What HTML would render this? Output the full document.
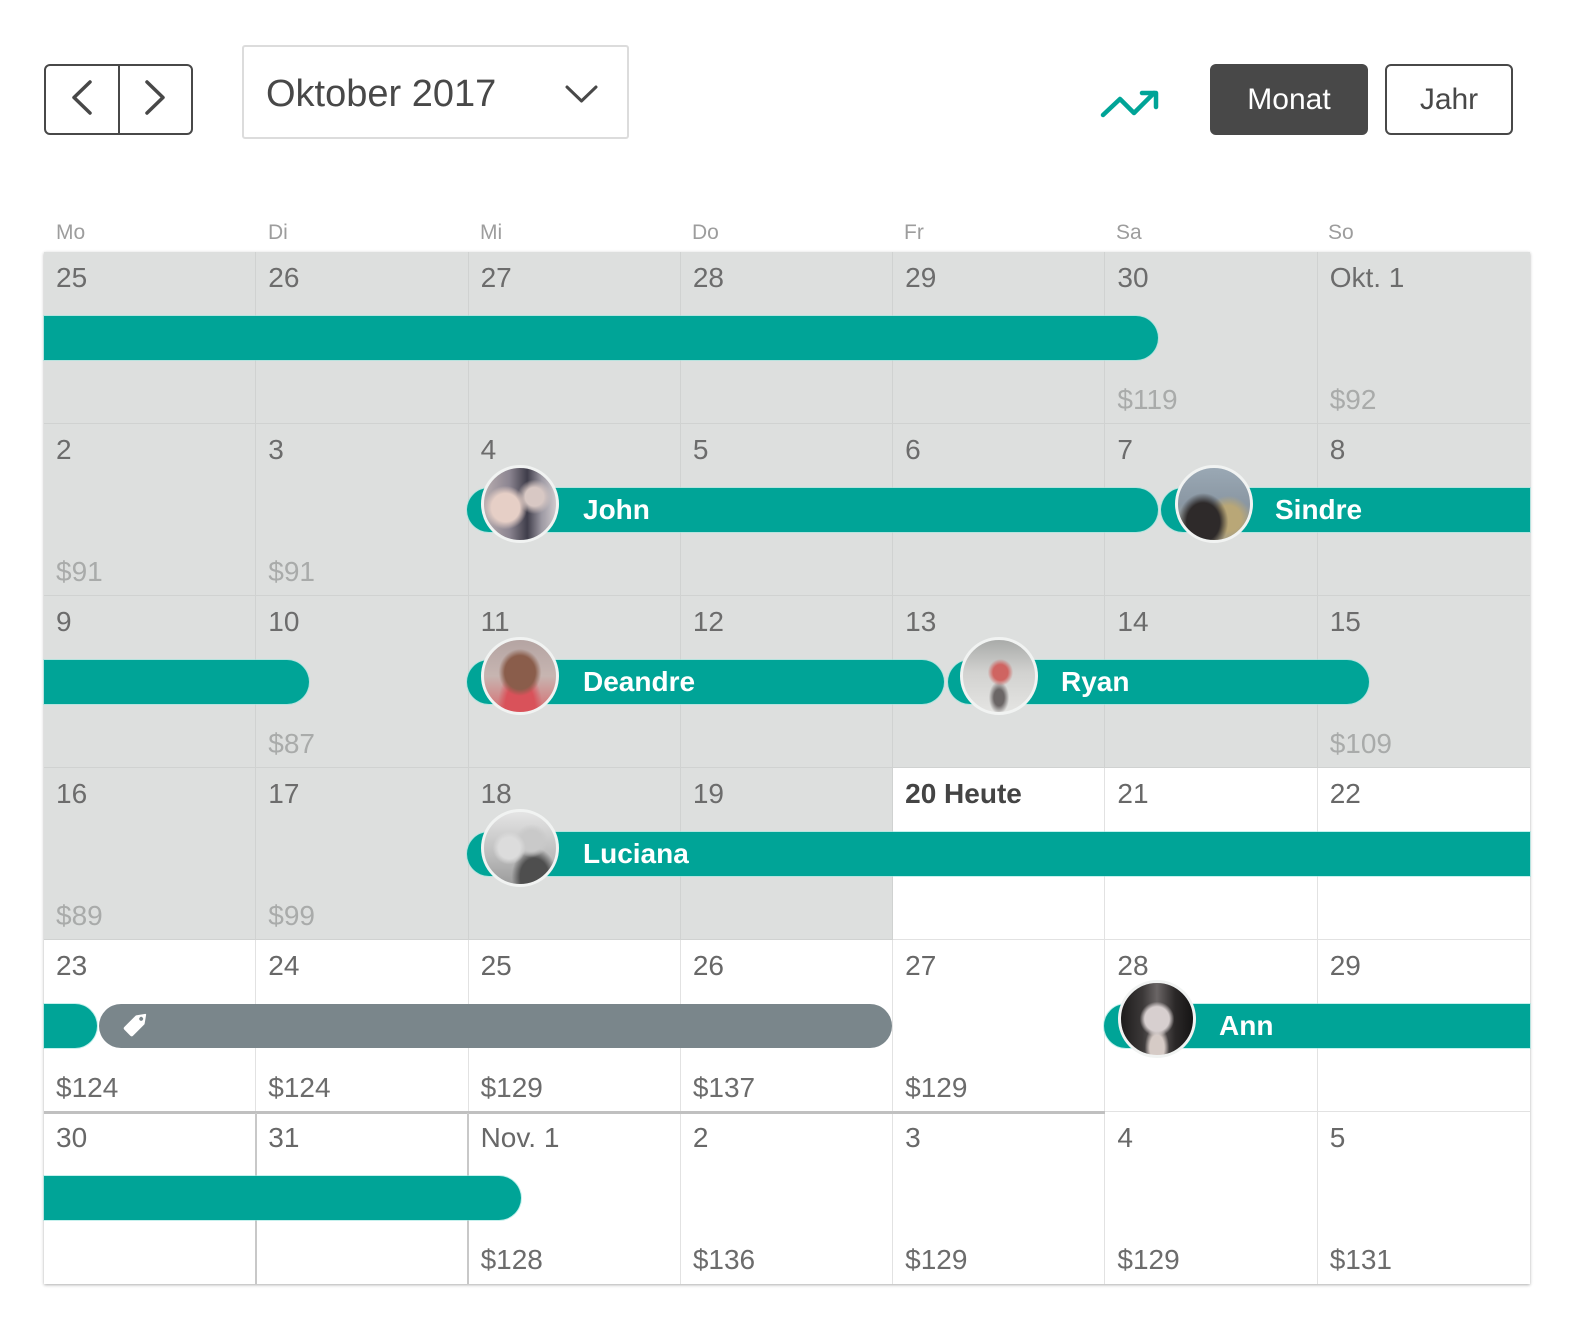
<!DOCTYPE html>
<html>
<head>
<meta charset="utf-8">
<style>
  html,body{margin:0;padding:0;background:#fff;}
  body{width:1572px;height:1322px;position:relative;overflow:hidden;font-family:"Liberation Sans",Arial,sans-serif;}
  .abs{position:absolute;}
  .hdr{position:absolute;top:222px;font-size:21px;line-height:21px;color:#9d9d9d;}
  #grid{position:absolute;left:44px;top:252px;width:1486px;height:1032px;display:grid;
        grid-template-columns:repeat(7,212.2857px);grid-template-rows:repeat(6,172px);
        box-shadow:0 1px 3px rgba(0,0,0,0.32);background:#fff;}
  .c{position:relative;box-sizing:border-box;border-right:1px solid #d0d2d1;border-bottom:1px solid #d0d2d1;}
  .g{background:#dddfde;}
  .w{background:#fff;border-right-color:#e2e2e2;border-bottom-color:#e2e2e2;}
  .c:nth-child(7n){border-right:none;}
  .n{position:absolute;left:12px;top:12px;font-size:28px;line-height:28px;color:#6c6c6c;white-space:nowrap;}
  .w .n{color:#686868;}
  .n.b{font-weight:bold;color:#444;}
  .p{position:absolute;left:12px;top:134px;font-size:28px;line-height:28px;color:#a9abaa;}
  .w .p{color:#6c6c6c;}
  .bar{position:absolute;height:44px;background:#00a497;box-shadow:0 0 0 1px rgba(150,230,222,0.55);}
  .rl{border-top-left-radius:22px;border-bottom-left-radius:22px;}
  .rr{border-top-right-radius:22px;border-bottom-right-radius:22px;}
  .gray{background:#7a868b;box-shadow:none;}
  .av{position:absolute;width:78px;height:78px;box-sizing:border-box;border-radius:50%;border:3px solid #f1f3f2;overflow:hidden;}
  .nm{position:absolute;font-size:28px;line-height:28px;font-weight:bold;color:#fff;white-space:nowrap;}
</style>
</head>
<body>

<!-- nav buttons -->
<div class="abs" style="left:44px;top:64px;width:149px;height:71px;box-sizing:border-box;border:2px solid #484848;border-radius:6px;"></div>
<div class="abs" style="left:118px;top:64px;width:2px;height:71px;background:#484848;"></div>
<svg class="abs" style="left:0;top:0;" width="700" height="160">
  <polyline points="90,82 74,97.5 90,113" fill="none" stroke="#484848" stroke-width="3.5" stroke-linecap="round" stroke-linejoin="round"/>
  <polyline points="147,82 163,97.5 147,113" fill="none" stroke="#484848" stroke-width="3.5" stroke-linecap="round" stroke-linejoin="round"/>
  <polyline points="567,87 581.5,101 596,87" fill="none" stroke="#484848" stroke-width="3" stroke-linecap="round" stroke-linejoin="round"/>
</svg>

<!-- dropdown -->
<div class="abs" style="left:242px;top:45px;width:387px;height:94px;box-sizing:border-box;border:2px solid #dcdcdc;border-radius:3px;"></div>
<div class="abs" style="left:266px;top:75px;font-size:38px;line-height:38px;color:#484848;white-space:nowrap;">Oktober 2017</div>

<!-- trend icon -->
<svg class="abs" style="left:1090px;top:80px;" width="80" height="50">
  <polyline points="13,35 30,19 44,33 64,13" fill="none" stroke="#00a497" stroke-width="4.5" stroke-linecap="round" stroke-linejoin="round"/>
  <polyline points="52,13 66,13 66,27" fill="none" stroke="#00a497" stroke-width="4.5" stroke-linecap="round" stroke-linejoin="round"/>
</svg>

<!-- Monat / Jahr -->
<div class="abs" style="left:1210px;top:64px;width:158px;height:71px;background:#484848;border-radius:6px;color:#fff;font-size:30px;display:flex;align-items:center;justify-content:center;">Monat</div>
<div class="abs" style="left:1385px;top:64px;width:128px;height:71px;box-sizing:border-box;border:2px solid #484848;border-radius:6px;color:#484848;font-size:30px;display:flex;align-items:center;justify-content:center;">Jahr</div>

<!-- weekday headers -->
<div class="hdr" style="left:56px;">Mo</div>
<div class="hdr" style="left:268px;">Di</div>
<div class="hdr" style="left:480px;">Mi</div>
<div class="hdr" style="left:692px;">Do</div>
<div class="hdr" style="left:904px;">Fr</div>
<div class="hdr" style="left:1116px;">Sa</div>
<div class="hdr" style="left:1328px;">So</div>

<!-- grid -->
<div id="grid">
  <!-- row 1 -->
  <div class="c g"><span class="n">25</span></div>
  <div class="c g"><span class="n">26</span></div>
  <div class="c g"><span class="n">27</span></div>
  <div class="c g"><span class="n">28</span></div>
  <div class="c g"><span class="n">29</span></div>
  <div class="c g"><span class="n">30</span><span class="p">$119</span></div>
  <div class="c g"><span class="n">Okt. 1</span><span class="p">$92</span></div>
  <!-- row 2 -->
  <div class="c g"><span class="n">2</span><span class="p">$91</span></div>
  <div class="c g"><span class="n">3</span><span class="p">$91</span></div>
  <div class="c g"><span class="n">4</span></div>
  <div class="c g"><span class="n">5</span></div>
  <div class="c g"><span class="n">6</span></div>
  <div class="c g"><span class="n">7</span></div>
  <div class="c g"><span class="n">8</span></div>
  <!-- row 3 -->
  <div class="c g"><span class="n">9</span></div>
  <div class="c g"><span class="n">10</span><span class="p">$87</span></div>
  <div class="c g"><span class="n">11</span></div>
  <div class="c g"><span class="n">12</span></div>
  <div class="c g"><span class="n">13</span></div>
  <div class="c g"><span class="n">14</span></div>
  <div class="c g"><span class="n">15</span><span class="p">$109</span></div>
  <!-- row 4 -->
  <div class="c g"><span class="n">16</span><span class="p">$89</span></div>
  <div class="c g"><span class="n">17</span><span class="p">$99</span></div>
  <div class="c g"><span class="n">18</span></div>
  <div class="c g"><span class="n">19</span></div>
  <div class="c w"><span class="n b">20 Heute</span></div>
  <div class="c w"><span class="n">21</span></div>
  <div class="c w"><span class="n">22</span></div>
  <!-- row 5 -->
  <div class="c w"><span class="n">23</span><span class="p">$124</span></div>
  <div class="c w"><span class="n">24</span><span class="p">$124</span></div>
  <div class="c w"><span class="n">25</span><span class="p">$129</span></div>
  <div class="c w"><span class="n">26</span><span class="p">$137</span></div>
  <div class="c w"><span class="n">27</span><span class="p">$129</span></div>
  <div class="c w"><span class="n">28</span></div>
  <div class="c w"><span class="n">29</span></div>
  <!-- row 6 -->
  <div class="c w" style="border-bottom:none"><span class="n">30</span></div>
  <div class="c w" style="border-bottom:none"><span class="n">31</span></div>
  <div class="c w" style="border-bottom:none"><span class="n">Nov. 1</span><span class="p">$128</span></div>
  <div class="c w" style="border-bottom:none"><span class="n">2</span><span class="p">$136</span></div>
  <div class="c w" style="border-bottom:none"><span class="n">3</span><span class="p">$129</span></div>
  <div class="c w" style="border-bottom:none"><span class="n">4</span><span class="p">$129</span></div>
  <div class="c w" style="border-bottom:none"><span class="n">5</span><span class="p">$131</span></div>
</div>

<!-- darker boundary lines -->
<div class="abs" style="left:44px;top:1111px;width:1061px;height:3px;background:#c0c0c0;"></div>
<div class="abs" style="left:255px;top:1113px;width:2px;height:171px;background:#c8c8c8;"></div>
<div class="abs" style="left:467px;top:1113px;width:2px;height:171px;background:#c8c8c8;"></div>

<!-- bars row 1 -->
<div class="bar rr" style="left:44px;top:316px;width:1114px;"></div>
<!-- row 2 -->
<div class="bar rl rr" style="left:467px;top:488px;width:691px;"></div>
<div class="bar rl" style="left:1161px;top:488px;width:369px;"></div>
<!-- row 3 -->
<div class="bar rr" style="left:44px;top:660px;width:265px;"></div>
<div class="bar rl rr" style="left:467px;top:660px;width:477px;"></div>
<div class="bar rl rr" style="left:948px;top:660px;width:421px;"></div>
<!-- row 4 -->
<div class="bar rl" style="left:467px;top:832px;width:1063px;"></div>
<!-- row 5 -->
<div class="bar rr" style="left:44px;top:1004px;width:53px;"></div>
<div class="bar rl rr gray" style="left:99px;top:1004px;width:793px;"></div>
<div class="bar rl" style="left:1104px;top:1004px;width:426px;"></div>
<!-- row 6 -->
<div class="bar rr" style="left:44px;top:1176px;width:477px;"></div>

<!-- tag icon -->
<svg class="abs" style="left:122px;top:1008px;" width="30" height="30" viewBox="0 0 28 28">
  <g transform="rotate(-45 14 14)">
    <path d="M3,9 Q2,9 2,10 L2,18 Q2,19 3,19 L18,19 L25,14 L18,9 Z" fill="#fff" stroke="#fff" stroke-width="1.5" stroke-linejoin="round"/>
    <circle cx="19.5" cy="14" r="1.8" fill="#7a868b"/>
  </g>
</svg>

<!-- avatars -->
<div class="av" style="left:481px;top:465px;background:
  radial-gradient(circle at 30% 55%, #e6cfc6 0 22%, transparent 34%),
  radial-gradient(circle at 70% 40%, #d8c8c4 0 14%, transparent 26%),
  linear-gradient(90deg,#b9aeb0 0%,#8c8591 35%,#3f3d4a 60%,#9d99a3 80%,#cfc9cc 100%);"></div>
<div class="av" style="left:1175px;top:465px;background:
  radial-gradient(ellipse at 35% 75%, #2e2a2a 0 25%, transparent 38%),
  radial-gradient(circle at 70% 70%, #b9a777 0 18%, transparent 32%),
  linear-gradient(180deg,#9aa8b4 0%,#8a97a3 50%,#a49b82 100%);"></div>
<div class="av" style="left:481px;top:637px;background:
  radial-gradient(ellipse at 50% 45%, #8a5d4b 0 30%, transparent 42%),
  radial-gradient(ellipse at 50% 100%, #d9525a 0 30%, transparent 45%),
  linear-gradient(180deg,#b4a4a2 0%,#c7b5b1 50%,#d66c70 100%);"></div>
<div class="av" style="left:960px;top:637px;background:
  radial-gradient(ellipse at 52% 45%, #cf6461 0 14%, transparent 24%),
  radial-gradient(ellipse at 50% 80%, #6b6666 0 10%, transparent 20%),
  linear-gradient(180deg,#a9aba9 0%,#d2d2d0 45%,#e4e4e2 100%);"></div>
<div class="av" style="left:481px;top:809px;background:
  radial-gradient(circle at 35% 50%, #dcdcdc 0 18%, transparent 28%),
  radial-gradient(circle at 66% 40%, #c9c9c9 0 16%, transparent 26%),
  radial-gradient(ellipse at 70% 90%, #4e4e4e 0 20%, transparent 32%),
  linear-gradient(180deg,#e4e4e4 0%,#bdbdbd 60%,#9c9c9c 100%);"></div>
<div class="av" style="left:1118px;top:980px;background:
  radial-gradient(ellipse at 50% 50%, #d7cfcf 0 24%, transparent 34%),
  radial-gradient(ellipse at 50% 90%, #d6cbc6 0 14%, transparent 24%),
  linear-gradient(90deg,#1e1c1c 0%,#3b3838 30%,#6a6565 50%,#2b2828 75%,#151414 100%);"></div>

<!-- names -->
<div class="nm" style="left:583px;top:496px;">John</div>
<div class="nm" style="left:1275px;top:496px;">Sindre</div>
<div class="nm" style="left:583px;top:668px;">Deandre</div>
<div class="nm" style="left:1061px;top:668px;">Ryan</div>
<div class="nm" style="left:583px;top:840px;">Luciana</div>
<div class="nm" style="left:1219px;top:1012px;">Ann</div>

</body>
</html>
